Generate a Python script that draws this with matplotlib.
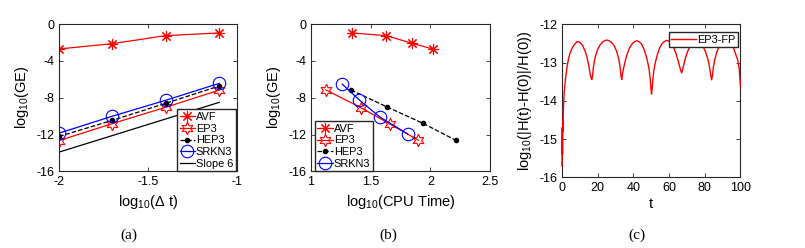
import numpy as np
import matplotlib.pyplot as plt

plt.rcParams['font.family'] = ['Liberation Sans', 'DejaVu Sans']
plt.rcParams['axes.unicode_minus'] = False
plt.rcParams['mathtext.fontset'] = 'custom'
plt.rcParams['mathtext.rm'] = 'Liberation Sans'
plt.rcParams['mathtext.it'] = 'Liberation Sans'

# (a) global error vs time step
log_dt = [-2.0, -1.7, -1.4, -1.1]
ge_avf_a = [-2.71, -2.13, -1.26, -0.97]
ge_ep3_a = [-12.65, -10.8, -9.03, -7.17]
ge_hep3_a = [-12.2, -10.45, -8.6, -6.73]
ge_srkn3_a = [-11.84, -10.0, -8.27, -6.44]
slope_x = [-2.0, -1.1]
slope_y = [-13.9, -8.5]

# (b) global error vs CPU time
cpu_avf = [1.341, 1.629, 1.847, 2.02]
ge_avf_b = [-0.97, -1.26, -2.09, -2.71]
cpu_ep3 = [1.126, 1.42, 1.664, 1.899]
ge_ep3_b = [-7.16, -9.09, -10.87, -12.6]
cpu_hep3 = [1.335, 1.634, 1.941, 2.211]
ge_hep3_b = [-7.16, -8.98, -10.79, -12.6]
cpu_srkn3 = [1.262, 1.405, 1.578, 1.81]
ge_srkn3_b = [-6.52, -8.24, -10.1, -11.93]

# (c) energy error of EP3-FP
t_c = [0, 0.15, 0.3, 0.45, 0.6, 0.8, 1.2, 1.9, 2.8, 3.7, 4.6, 5.6, 6.6, 7.5, 8.5,
       10.0, 11.5, 12.8, 14.0, 15.0, 15.8, 16.3, 16.7,
       17.1, 17.6, 18.4, 19.6, 21.0, 22.5, 23.8, 25.1,
       26.4, 27.7, 29.2, 30.6, 31.8, 32.6, 33.1, 33.5,
       33.9, 34.5, 35.5, 36.5, 38.0, 39.5, 40.8, 41.9,
       43.0, 44.3, 45.7, 47.0, 48.0, 48.9, 49.5, 49.9, 50.2,
       50.5, 50.9, 51.5, 52.4, 53.4, 54.7, 56.1, 57.4, 58.6,
       59.8, 61.1, 62.5, 63.8, 64.9, 65.8, 66.5, 67.1,
       67.6, 68.3, 69.2, 70.3, 71.7, 73.0, 74.2, 75.4,
       76.6, 77.9, 79.3, 80.6, 81.8, 82.7, 83.4, 83.9,
       84.3, 84.8, 85.6, 86.8, 88.1, 89.5, 90.8, 92.2,
       93.4, 94.7, 96.0, 97.3, 98.4, 99.3, 100.0]
err_c = [-15.7, -14.7, -15.4, -14.5, -14.8, -14.2, -13.8, -13.45, -13.12, -12.89, -12.74, -12.63, -12.55, -12.5, -12.45,
         -12.47, -12.55, -12.68, -12.86, -13.07, -13.3, -13.4, -13.44,
         -13.36, -13.12, -12.9, -12.7, -12.56, -12.47, -12.43, -12.41,
         -12.43, -12.47, -12.56, -12.7, -12.9, -13.12, -13.36, -13.44,
         -13.3, -13.15, -12.95, -12.78, -12.6, -12.5, -12.45, -12.43,
         -12.45, -12.5, -12.62, -12.8, -12.98, -13.2, -13.45, -13.7, -13.82,
         -13.7, -13.45, -13.2, -12.98, -12.8, -12.62, -12.5, -12.45, -12.42,
         -12.44, -12.49, -12.6, -12.75, -12.92, -13.08, -13.2, -13.27,
         -13.18, -13.04, -12.88, -12.72, -12.58, -12.5, -12.45, -12.43,
         -12.45, -12.5, -12.6, -12.74, -12.92, -13.12, -13.35, -13.45,
         -13.35, -13.12, -12.92, -12.72, -12.58, -12.5, -12.45, -12.43,
         -12.45, -12.5, -12.6, -12.78, -12.92, -13.15, -13.62]

axcol = '#262626'
asterisk = (8, 2, 0)
hexagram = (6, 1, 0)


def style_axes(ax):
    for s in ax.spines.values():
        s.set_color(axcol)
        s.set_linewidth(0.8)
    ax.tick_params(direction='in', top=True, right=True, length=3, width=0.6,
                   colors=axcol, labelsize=9, labelcolor='black')


fig = plt.figure(figsize=(8.05, 2.48), dpi=100)
ax1 = fig.add_axes([0.0733, 0.3085, 0.2211, 0.5947])
ax2 = fig.add_axes([0.3863, 0.3085, 0.2224, 0.5947])
ax3 = fig.add_axes([0.6981, 0.2843, 0.2217, 0.6177])

leg_kw = dict(fontsize=7.9, frameon=True, fancybox=False, edgecolor=axcol, framealpha=1,
              borderpad=0.25, labelspacing=0.15, handletextpad=0.1, borderaxespad=0.0)

# (a)
ax1.plot(log_dt, ge_avf_a, '-', color='red', lw=0.9, marker=asterisk, ms=8, mec='red', mew=0.8, label='AVF')
ax1.plot(log_dt, ge_ep3_a, '-', color='red', lw=0.9, marker=hexagram, ms=9, mfc='none', mec='red', mew=0.8, label='EP3')
ax1.plot(log_dt, ge_hep3_a, '--', color='black', lw=0.9, marker='o', ms=3, label='HEP3')
ax1.plot(log_dt, ge_srkn3_a, '-', color='blue', lw=0.9, marker='o', ms=9, mfc='none', mec='blue', mew=0.8, label='SRKN3')
ax1.plot(slope_x, slope_y, '-', color='black', lw=0.9, label='Slope 6')
ax1.set_xlim(-2, -1)
ax1.set_ylim(-16, 0)
ax1.set_xticks([-2, -1.5, -1])
ax1.set_xticklabels(['-2', '-1.5', '-1'])
ax1.set_yticks([-16, -12, -8, -4, 0])
ax1.set_xlabel(r'log$_{10}$($\Delta$ t)', fontsize=10.5, labelpad=3)
ax1.set_ylabel(r'log$_{10}$(GE)', fontsize=10.5, labelpad=4)
style_axes(ax1)
ax1.legend(loc='lower right', bbox_to_anchor=(0.995, 0.0), handlelength=1.4, **leg_kw)

# (b)
ax2.plot(cpu_avf, ge_avf_b, '-', color='red', lw=0.9, marker=asterisk, ms=8, mec='red', mew=0.8, label='AVF')
ax2.plot(cpu_ep3, ge_ep3_b, '-', color='red', lw=0.9, marker=hexagram, ms=9, mfc='none', mec='red', mew=0.8, label='EP3')
ax2.plot(cpu_hep3, ge_hep3_b, '--', color='black', lw=0.9, marker='o', ms=3, label='HEP3')
ax2.plot(cpu_srkn3, ge_srkn3_b, '-', color='blue', lw=0.9, marker='o', ms=9, mfc='none', mec='blue', mew=0.8, label='SRKN3')
ax2.set_xlim(1, 2.5)
ax2.set_ylim(-16, 0)
ax2.set_xticks([1, 1.5, 2, 2.5])
ax2.set_xticklabels(['1', '1.5', '2', '2.5'])
ax2.set_yticks([-16, -12, -8, -4, 0])
ax2.set_xlabel(r'log$_{10}$(CPU Time)', fontsize=10.5, labelpad=3)
ax2.set_ylabel(r'log$_{10}$(GE)', fontsize=10.5, labelpad=4)
style_axes(ax2)
ax2.legend(loc='lower left', bbox_to_anchor=(0.02, 0.0), handlelength=1.4, **leg_kw)

# (c)
ax3.plot(t_c, err_c, '-', color='red', lw=1.0, label='EP3-FP', zorder=3, clip_on=False)
ax3.set_xlim(0, 100)
ax3.set_ylim(-16, -12)
ax3.set_xticks([0, 20, 40, 60, 80, 100])
ax3.set_yticks([-16, -15, -14, -13, -12])
ax3.set_xlabel('t', fontsize=10.5, labelpad=2)
ax3.set_ylabel(r'log$_{10}$(|H(t)-H(0)|/H(0))', fontsize=10.5, labelpad=4)
style_axes(ax3)
ax3.legend(loc='upper right', bbox_to_anchor=(0.985, 0.95), handlelength=2.2, **leg_kw)

for x, lab in [(129, '(a)'), (388, '(b)'), (637, '(c)')]:
    fig.text(x / 805, 1 - 235 / 248, lab, ha='center', va='center',
             fontsize=11, family=['Liberation Serif', 'DejaVu Serif'])

fig.savefig('out.png', dpi=100)
